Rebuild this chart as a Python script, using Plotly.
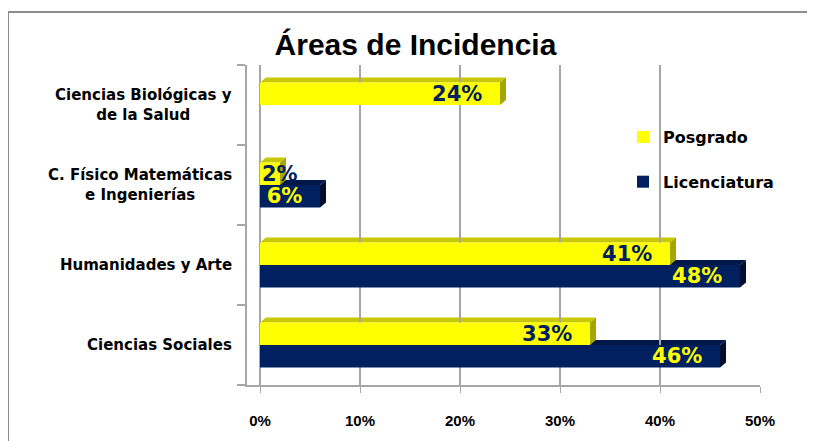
import plotly.graph_objects as go

categories = ['Ciencias Sociales', 'Humanidades y Arte',
              'C. Físico Matemáticas<br>e Ingenierías',
              'Ciencias Biológicas y<br>de la Salud']
posgrado = [33, 41, 2, 24]
licenciatura = [46, 48, 6, None]
x_ticks = [0, 10, 20, 30, 40, 50]
x_labels = ['0%', '10%', '20%', '30%', '40%', '50%']

YELLOW = '#FFFF00'
NAVY = '#002060'
pos = list(range(len(categories)))

bargap = 0.44
w = (1 - bargap) / 2
# fake 3d depth (in data units): ~6px right, ~5px up
dx, dy = 0.6, 5 / 80
small = 5  # values below this get their label placed at the bar start
pad = '\u00a0\u00a0'  # keep labels a bit away from the bar end

label_font = dict(family='Arial Black, DejaVu Sans, sans-serif', size=21, weight='bold')
wide_bold = dict(family='DejaVu Sans, Verdana, sans-serif', weight='bold', color='black')

fig = go.Figure()
fig.add_trace(go.Bar(
    y=pos, x=licenciatura, orientation='h', name='Licenciatura', legendrank=2,
    marker=dict(color=NAVY, line=dict(width=0)), legendgroup='l',
    text=[f'{v}%{pad}' if v else '' for v in licenciatura],
    textposition='inside', insidetextanchor='end', constraintext='none',
    textfont=dict(label_font, color=YELLOW),
))
fig.add_trace(go.Bar(
    y=pos, x=posgrado, orientation='h', name='Posgrado', legendrank=1,
    marker=dict(color=YELLOW, line=dict(width=0)), legendgroup='p',
    text=[f'{v}%{pad}' if v >= small else '' for v in posgrado],
    textposition='inside', insidetextanchor='end', constraintext='none',
    textfont=dict(label_font, color=NAVY),
))

# labels for tiny bars: start at the bar origin and run past the end
annotations = []
for i, v in zip(pos, posgrado):
    if v < small:
        annotations.append(dict(x=0, y=i + w / 2, xref='x', yref='y', text=f'{v}%',
                                showarrow=False, xanchor='left', yanchor='middle',
                                font=dict(label_font, color=NAVY)))

# category labels, centred multi-line like the original
for i, c in zip(pos, categories):
    annotations.append(dict(x=0, y=i, xref='paper', yref='y', text=c, showarrow=False,
                            xanchor='right', yanchor='middle', align='center', xshift=-13,
                            font=dict(wide_bold, size=15)))

# depth faces for the bars (top + right side)
shapes = []
for vals, off, top_c, side_c in [(licenciatura, -w, '#001848', '#000E30'),
                                 (posgrado, 0, '#C8C800', '#A6A600')]:
    for i, v in zip(pos, vals):
        if not v:
            continue
        y0, y1 = i + off, i + off + w
        shapes.append(dict(type='path', xref='x', yref='y', layer='below',
                           path=f'M 0,{y1} L {dx},{y1+dy} L {v+dx},{y1+dy} L {v},{y1} Z',
                           fillcolor=top_c, line=dict(width=0)))
        shapes.append(dict(type='path', xref='x', yref='y', layer='below',
                           path=f'M {v},{y0} L {v},{y1} L {v+dx},{y1+dy} L {v+dx},{y0+dy} Z',
                           fillcolor=side_c, line=dict(width=0)))

# page body adds 8px, so everything is laid out 8px up/left
L, R, T, W, H = 239, 63, 57, 815, 441
pw, ph = W - L - R, 320
B = H - T - ph
plot_bottom = T + ph

# outer chart frame
shapes.append(dict(type='rect', xref='paper', yref='paper', layer='below',
                   x0=(0 - L) / pw, x1=(W + 5 - L) / pw,
                   y0=-(B + 10) / ph, y1=(plot_bottom - 4) / ph,
                   line=dict(color='#8C8C8C', width=2), fillcolor='rgba(0,0,0,0)'))

fig.update_layout(
    width=W, height=H,
    margin=dict(l=L, r=R, t=T, b=B),
    paper_bgcolor='white', plot_bgcolor='white',
    barmode='group', bargap=bargap,
    title=dict(text='Áreas de Incidencia', x=0.5, xref='container', xanchor='center',
               y=(H - 36) / H, yanchor='middle',
               font=dict(family='Liberation Sans, Arial', size=30, weight='bold',
                         color='black')),
    font=dict(family='Liberation Sans, Arial, sans-serif', color='black'),
    legend=dict(x=(615 - L) / pw, y=(plot_bottom - 112) / ph, xanchor='left', yanchor='top',
                traceorder='grouped', tracegroupgap=21,
                font=dict(wide_bold, size=16), bgcolor='rgba(0,0,0,0)'),
    shapes=shapes,
    annotations=annotations,
)
fig.update_xaxes(range=[-1.3, 50], tickvals=x_ticks, ticktext=x_labels,
                 showgrid=True, gridcolor='#A6A6A6', gridwidth=2, zeroline=False,
                 showline=True, linecolor='#A6A6A6', linewidth=2,
                 ticks='outside', tickcolor='#A6A6A6', ticklen=6,
                 ticklabelstandoff=15,
                 tickfont=dict(size=15, weight='bold'))
fig.update_yaxes(range=[-0.5, 3.5], tickvals=pos, showticklabels=False,
                 showgrid=False, zeroline=False,
                 showline=True, linecolor='#A6A6A6', linewidth=2, ticks='',
                 minor=dict(tickvals=[-0.5, 0.5, 1.5, 2.5, 3.5], ticks='outside',
                            ticklen=8, tickcolor='#A6A6A6', tickwidth=2))

fig.write_html('out.html')
